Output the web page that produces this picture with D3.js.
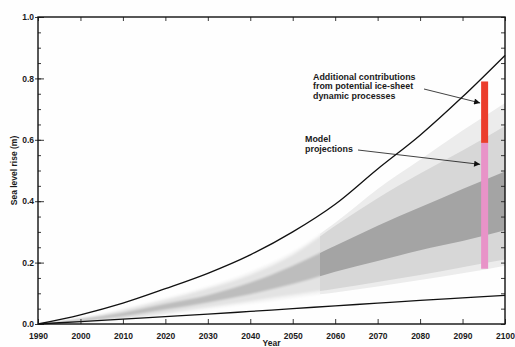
<!DOCTYPE html>
<html>
<head>
<meta charset="utf-8">
<script src="https://cdn.jsdelivr.net/npm/d3@7"></script>
<style>
  html, body { margin: 0; padding: 0; background: #fefefe; }
  svg { display: block; }
  text { font-family: "Liberation Sans", Arial, sans-serif; font-weight: bold; fill: #1a1a1a; }
</style>
</head>
<body>
<svg id="chart" width="515" height="347"></svg>
<script>
// Projected global sea level rise, 1990-2100 (m)
const years      = [1990, 2000, 2010, 2020, 2030, 2040, 2050, 2060, 2070, 2080, 2090, 2100];
const upperLine  = [0, 0.030, 0.068, 0.115, 0.165, 0.225, 0.300, 0.390, 0.505, 0.615, 0.740, 0.875];
const lowerLine  = [0, 0.008, 0.016, 0.024, 0.032, 0.041, 0.050, 0.059, 0.068, 0.077, 0.085, 0.093];
const outerLow   = [0, 0.004, 0.014, 0.030, 0.048, 0.066, 0.085, 0.103, 0.122, 0.143, 0.165, 0.190];
const outerHigh  = [0, 0.020, 0.050, 0.085, 0.122, 0.170, 0.235, 0.330, 0.440, 0.535, 0.630, 0.720];
const lightLow   = [0, 0.005, 0.017, 0.035, 0.055, 0.075, 0.095, 0.115, 0.137, 0.160, 0.185, 0.210];
const lightHigh  = [0, 0.018, 0.045, 0.078, 0.115, 0.160, 0.225, 0.320, 0.410, 0.490, 0.565, 0.645];
const darkLow    = [0, 0.010, 0.025, 0.047, 0.070, 0.097, 0.130, 0.170, 0.205, 0.240, 0.270, 0.305];
const darkHigh   = [0, 0.016, 0.037, 0.066, 0.094, 0.135, 0.190, 0.255, 0.320, 0.380, 0.440, 0.497];

// Shading changes tone after this year
const splitYear = 2056.4;

// Range bar near the end of the century
const barYear = 2095.2;
const projLow = 0.18, projHigh = 0.59, iceHigh = 0.79;

const xTicks = [1990, 2000, 2010, 2020, 2030, 2040, 2050, 2060, 2070, 2080, 2090, 2100];
const yTicks = [0, 0.2, 0.4, 0.6, 0.8, 1.0];
const yMinorTicks = d3.range(0, 1.0001, 0.05);

const svg = d3.select("#chart");
const x = d3.scaleLinear().domain([1990, 2100]).range([38, 505]);
const y = d3.scaleLinear().domain([0, 1]).range([324, 17]);

const rows = years.map((yr, i) => ({
  yr, up: upperLine[i], lo: lowerLine[i],
  oL: outerLow[i], oH: outerHigh[i],
  lL: lightLow[i], lH: lightHigh[i],
  dL: darkLow[i], dH: darkHigh[i]
}));

const defs = svg.append("defs");
defs.append("clipPath").attr("id", "clipLeft").append("rect")
  .attr("x", x(1990)).attr("y", y(1)).attr("width", x(splitYear) - x(1990)).attr("height", y(0) - y(1));
defs.append("clipPath").attr("id", "clipRight").append("rect")
  .attr("x", x(splitYear)).attr("y", y(1)).attr("width", x(2100) - x(splitYear)).attr("height", y(0) - y(1));
defs.append("filter").attr("id", "soft").append("feGaussianBlur").attr("stdDeviation", 1.2);

defs.append("marker").attr("id", "arrow")
  .attr("viewBox", "0 0 10 10").attr("refX", 10).attr("refY", 5)
  .attr("markerWidth", 8).attr("markerHeight", 6).attr("markerUnits", "userSpaceOnUse")
  .attr("orient", "auto")
  .append("path").attr("d", "M0,0 L10,5 L0,10 Z").attr("fill", "#111");

const band = (lo, hi) => d3.area().curve(d3.curveMonotoneX)
  .x(d => x(d.yr)).y0(d => y(d[lo])).y1(d => y(d[hi]));

const shades = [
  { clip: "clipLeft",  colors: ["#f4f4f4", "#e3e3e3", "#bdbdbd"], filter: "url(#soft)" },
  { clip: "clipRight", colors: ["#ececec", "#d7d7d7", "#a4a4a4"], filter: null }
];
shades.forEach(s => {
  const g = svg.append("g").attr("clip-path", `url(#${s.clip})`);
  const inner = g.append("g").attr("filter", s.filter);
  inner.append("path").datum(rows).attr("d", band("oL", "oH")).attr("fill", s.colors[0]);
  inner.append("path").datum(rows).attr("d", band("lL", "lH")).attr("fill", s.colors[1]);
  inner.append("path").datum(rows).attr("d", band("dL", "dH")).attr("fill", s.colors[2]);
});

// Bounding curves
const line = key => d3.line().curve(d3.curveMonotoneX).x(d => x(d.yr)).y(d => y(d[key]));
svg.append("path").datum(rows).attr("d", line("up")).attr("fill", "none").attr("stroke", "#111").attr("stroke-width", 1.3);
svg.append("path").datum(rows).attr("d", line("lo")).attr("fill", "none").attr("stroke", "#111").attr("stroke-width", 1.3);

// Range bars
const barW = 7;
svg.append("rect").attr("x", x(barYear) - barW / 2).attr("y", y(projHigh))
  .attr("width", barW).attr("height", y(projLow) - y(projHigh)).attr("fill", "#e893c8");
svg.append("rect").attr("x", x(barYear) - barW / 2).attr("y", y(iceHigh))
  .attr("width", barW).attr("height", y(projHigh) - y(iceHigh)).attr("fill", "#eb3d2c");

// Axes: ticks drawn inside the frame
const axisG = svg.append("g");
axisG.append("g").attr("transform", `translate(0,${y(0)})`)
  .call(d3.axisBottom(x).tickValues(xTicks).tickSize(-5).tickFormat(d3.format("d")).tickPadding(9))
  .call(g => g.select(".domain").remove());
axisG.append("g").attr("transform", `translate(0,${y(1)})`)
  .call(d3.axisTop(x).tickValues(xTicks).tickSize(-4).tickFormat(""))
  .call(g => g.select(".domain").remove());
axisG.append("g").attr("transform", `translate(${x(1990)},0)`)
  .call(d3.axisLeft(y).tickValues(yMinorTicks).tickSize(-3).tickFormat(""))
  .call(g => g.select(".domain").remove());
axisG.append("g").attr("transform", `translate(${x(1990)},0)`)
  .call(d3.axisLeft(y).tickValues(yTicks).tickSize(3).tickFormat(d3.format(".1f")).tickPadding(1))
  .call(g => g.select(".domain").remove());
axisG.append("g").attr("transform", `translate(${x(1990)},0)`)
  .call(d3.axisRight(y).tickValues(yTicks).tickSize(6).tickFormat(""))
  .call(g => g.select(".domain").remove());
axisG.append("g").attr("transform", `translate(${x(2100)},0)`)
  .call(d3.axisLeft(y).tickValues(yMinorTicks).tickSize(4).tickFormat(""))
  .call(g => g.select(".domain").remove());
axisG.selectAll(".tick line").attr("stroke", "#222").attr("stroke-width", 0.9);
axisG.selectAll(".tick text").style("font-size", "8.5px").style("font-family", "'Liberation Sans', Arial, sans-serif")
  .style("font-weight", "bold").attr("fill", "#1a1a1a");

// Frame
svg.append("rect").attr("x", x(1990)).attr("y", y(1))
  .attr("width", x(2100) - x(1990)).attr("height", y(0) - y(1))
  .attr("fill", "none").attr("stroke", "#111").attr("stroke-width", 1.4);

// Axis titles
svg.append("text").attr("x", (x(1990) + x(2100)) / 2).attr("y", 345.5)
  .attr("text-anchor", "middle").style("font-size", "8.5px").text("Year");
svg.append("text").attr("transform", `translate(17,${(133 + 208) / 2}) rotate(-90)`)
  .attr("text-anchor", "middle").style("font-size", "8.5px").text("Sea level rise (m)");

// Annotations
const ann1 = ["Additional contributions", "from potential ice-sheet", "dynamic processes"];
svg.append("text").attr("x", 313).attr("y", 80).style("font-size", "8.9px")
  .selectAll("tspan").data(ann1).join("tspan")
  .attr("x", 313).attr("dy", (d, i) => i === 0 ? 0 : 9.4).text(d => d);
svg.append("line").attr("x1", 424).attr("y1", 89).attr("x2", x(barYear) - barW / 2 - 1).attr("y2", y(0.72))
  .attr("stroke", "#111").attr("stroke-width", 0.8).attr("marker-end", "url(#arrow)");

const ann2 = ["Model", "projections"];
svg.append("text").attr("x", 305).attr("y", 142).style("font-size", "8.9px")
  .selectAll("tspan").data(ann2).join("tspan")
  .attr("x", 305).attr("dy", (d, i) => i === 0 ? 0 : 10).text(d => d);
svg.append("line").attr("x1", 358).attr("y1", 150).attr("x2", x(barYear) - barW / 2 - 1).attr("y2", y(0.52))
  .attr("stroke", "#111").attr("stroke-width", 0.8).attr("marker-end", "url(#arrow)");
</script>
</body>
</html>
